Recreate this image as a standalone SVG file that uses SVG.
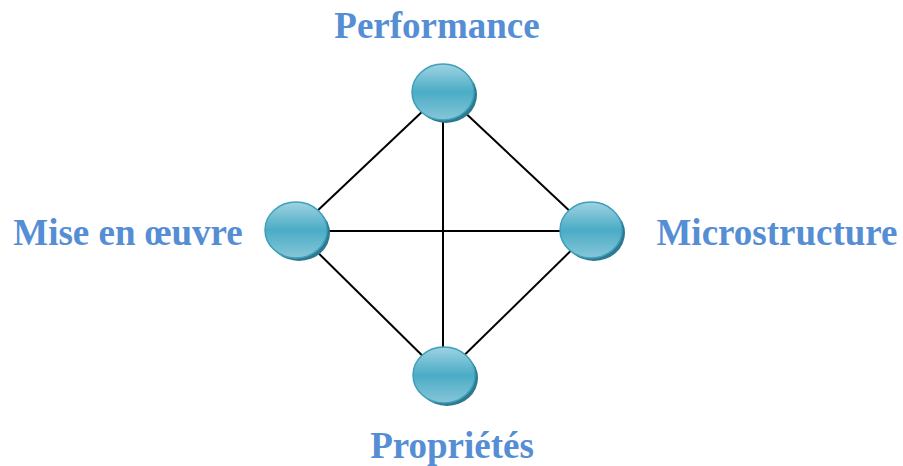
<svg xmlns="http://www.w3.org/2000/svg" width="903" height="466" viewBox="0 0 903 466">
  <style>
    .lbl { font-family: "Liberation Serif", "Times New Roman", serif; font-weight: bold; font-size: 37px; fill: #558ed5; text-anchor: middle; }
    .edge { stroke: #000; stroke-width: 2; fill: none; }
    .shadow { fill: #2d7a90; }
    .ball { fill: url(#ballGrad); stroke: #3f9fba; stroke-width: 1.5; }
  </style>
  <defs>
    <linearGradient id="ballGrad" x1="0" y1="0" x2="0" y2="1">
      <stop offset="0" stop-color="#9fd3e2"/>
      <stop offset="0.5" stop-color="#4aacc6"/>
      <stop offset="1" stop-color="#86c6d8"/>
    </linearGradient>
  </defs>
  <rect width="903" height="466" fill="#fff"/>

  <g id="connectors">
    <line class="edge" x1="443" y1="92" x2="296" y2="231"/>
    <line class="edge" x1="443" y1="92" x2="591" y2="231"/>
    <line class="edge" x1="443" y1="92" x2="443" y2="376"/>
    <line class="edge" x1="296" y1="231" x2="591" y2="231"/>
    <line class="edge" x1="296" y1="231" x2="443" y2="376"/>
    <line class="edge" x1="591" y1="231" x2="443" y2="376"/>
  </g>

  <g id="performance">
    <ellipse class="shadow" cx="446" cy="95" rx="31" ry="28"/>
    <ellipse class="ball" cx="443" cy="92" rx="31" ry="28"/>
    <text class="lbl" x="437" y="38">Performance</text>
  </g>

  <g id="mise-en-oeuvre">
    <ellipse class="shadow" cx="299" cy="233" rx="31" ry="28"/>
    <ellipse class="ball" cx="296" cy="230" rx="31" ry="28"/>
    <text class="lbl" x="128" y="245">Mise en œuvre</text>
  </g>

  <g id="microstructure">
    <ellipse class="shadow" cx="594" cy="233" rx="31" ry="28"/>
    <ellipse class="ball" cx="591" cy="230" rx="31" ry="28"/>
    <text class="lbl" x="777" y="245">Microstructure</text>
  </g>

  <g id="proprietes">
    <ellipse class="shadow" cx="447" cy="378" rx="31" ry="28"/>
    <ellipse class="ball" cx="444" cy="375" rx="31" ry="28"/>
    <text class="lbl" x="452" y="458">Propriétés</text>
  </g>
</svg>
